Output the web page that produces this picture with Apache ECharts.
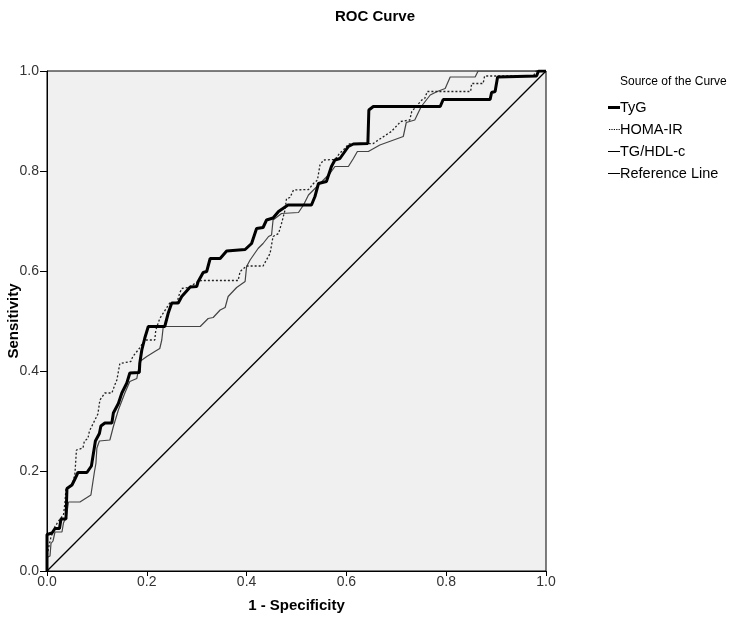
<!DOCTYPE html>
<html>
<head>
<meta charset="utf-8">
<script src="https://cdn.jsdelivr.net/npm/echarts@6/dist/echarts.min.js"></script>
<style>html,body{margin:0;padding:0;background:#fff}#c{width:750px;height:617px}</style>
</head>
<body>
<div id="c"></div>
<script>
const seriesNames = ['TyG', 'HOMA-IR', 'TG/HDL-c', 'Reference Line'];
const xTickValues = [0, 0.2, 0.4, 0.6, 0.8, 1.0];
const yTickValues = [0, 0.2, 0.4, 0.6, 0.8, 1.0];

// [1 - Specificity, Sensitivity]
const tygPoints = [[0,0],[0,0.073],[0.01,0.076],[0.016,0.085],[0.025,0.085],[0.028,0.104],[0.038,0.104],[0.04,0.165],[0.05,0.172],[0.056,0.184],[0.062,0.197],[0.08,0.197],[0.089,0.21],[0.097,0.26],[0.105,0.275],[0.108,0.29],[0.116,0.296],[0.13,0.296],[0.133,0.316],[0.143,0.335],[0.15,0.356],[0.16,0.376],[0.166,0.396],[0.185,0.397],[0.186,0.416],[0.19,0.442],[0.196,0.466],[0.203,0.489],[0.236,0.489],[0.243,0.516],[0.25,0.536],[0.263,0.536],[0.27,0.549],[0.287,0.568],[0.3,0.569],[0.303,0.579],[0.313,0.597],[0.32,0.599],[0.327,0.625],[0.347,0.625],[0.36,0.64],[0.397,0.643],[0.41,0.655],[0.42,0.685],[0.433,0.687],[0.44,0.702],[0.453,0.706],[0.464,0.719],[0.483,0.732],[0.53,0.732],[0.537,0.749],[0.544,0.775],[0.56,0.779],[0.57,0.809],[0.577,0.822],[0.587,0.825],[0.604,0.849],[0.614,0.854],[0.643,0.855],[0.645,0.922],[0.654,0.929],[0.788,0.929],[0.794,0.943],[0.888,0.943],[0.891,0.957],[0.898,0.959],[0.903,0.988],[0.981,0.99],[0.985,1],[1,1]];
const homaPoints = [[0,0],[0,0.03],[0.004,0.05],[0.008,0.068],[0.016,0.089],[0.026,0.104],[0.033,0.112],[0.036,0.137],[0.038,0.164],[0.048,0.17],[0.052,0.177],[0.056,0.195],[0.059,0.242],[0.072,0.246],[0.075,0.26],[0.082,0.265],[0.085,0.28],[0.095,0.3],[0.102,0.314],[0.106,0.342],[0.116,0.356],[0.13,0.356],[0.137,0.375],[0.14,0.382],[0.146,0.415],[0.168,0.419],[0.172,0.429],[0.185,0.445],[0.196,0.462],[0.216,0.462],[0.218,0.482],[0.226,0.505],[0.23,0.509],[0.246,0.536],[0.26,0.536],[0.266,0.556],[0.27,0.565],[0.283,0.567],[0.303,0.579],[0.31,0.581],[0.383,0.581],[0.387,0.599],[0.4,0.61],[0.433,0.61],[0.447,0.635],[0.453,0.669],[0.464,0.675],[0.47,0.695],[0.477,0.722],[0.48,0.745],[0.487,0.747],[0.494,0.762],[0.524,0.763],[0.534,0.775],[0.542,0.782],[0.547,0.812],[0.554,0.822],[0.577,0.823],[0.587,0.836],[0.597,0.845],[0.604,0.854],[0.654,0.855],[0.664,0.862],[0.69,0.879],[0.709,0.899],[0.727,0.902],[0.731,0.919],[0.751,0.942],[0.757,0.945],[0.762,0.959],[0.849,0.959],[0.851,0.975],[0.874,0.975],[0.877,0.99],[0.975,0.99],[0.98,1],[1,1]];
const tgHdlPoints = [[0,0],[0,0.027],[0.006,0.03],[0.008,0.055],[0.012,0.06],[0.016,0.078],[0.03,0.078],[0.033,0.096],[0.039,0.11],[0.043,0.138],[0.066,0.138],[0.088,0.152],[0.095,0.198],[0.098,0.215],[0.1,0.246],[0.105,0.26],[0.126,0.262],[0.133,0.289],[0.143,0.322],[0.156,0.356],[0.166,0.379],[0.18,0.385],[0.186,0.419],[0.2,0.429],[0.216,0.439],[0.226,0.445],[0.23,0.462],[0.233,0.489],[0.307,0.489],[0.323,0.505],[0.333,0.507],[0.347,0.522],[0.357,0.527],[0.363,0.549],[0.38,0.567],[0.397,0.579],[0.4,0.609],[0.407,0.622],[0.423,0.645],[0.433,0.655],[0.444,0.669],[0.45,0.672],[0.453,0.702],[0.47,0.715],[0.504,0.717],[0.514,0.732],[0.524,0.752],[0.537,0.765],[0.554,0.782],[0.567,0.795],[0.577,0.809],[0.604,0.809],[0.614,0.825],[0.622,0.839],[0.644,0.839],[0.667,0.852],[0.714,0.869],[0.72,0.897],[0.737,0.902],[0.75,0.929],[0.768,0.952],[0.782,0.959],[0.798,0.965],[0.808,0.988],[0.858,0.988],[0.864,1],[1,1]];
const referencePoints = [[0,0],[1,1]];

const FONT = '"Liberation Sans", Arial, sans-serif';
const chart = echarts.init(document.getElementById('c'), null, {renderer: 'canvas'});

const baseLine = {type: 'line', symbol: 'none', showSymbol: false, animation: false, silent: true};

// legend glyphs (12 x 14 box, hairline rects keep the box size)
const box = 'M0,0h12v0.01h-12z M0,13.99h12v0.01h-12z ';
const iconThick = 'path://' + box + 'M0,5.6h12v2.8h-12z';
const iconThin = 'path://' + box + 'M0,6.4h12v1.2h-12z';
const iconDot = 'path://' + box + 'M1,6.4h1.2v1.2h-1.2z M3.4,6.4h1.2v1.2h-1.2z M5.8,6.4h1.2v1.2h-1.2z M8.2,6.4h1.2v1.2h-1.2z M10.6,6.4h1.2v1.2h-1.2z';

chart.setOption({
  backgroundColor: '#ffffff',
  textStyle: {fontFamily: FONT},
  title: [
    {text: 'ROC Curve', left: 'center', top: 4,
     textStyle: {fontFamily: FONT, fontSize: 15, fontWeight: 'bold', color: '#000'}},
    {text: 'Source of the Curve', left: 615, top: 71,
     textStyle: {fontFamily: FONT, fontSize: 12, fontWeight: 'normal', color: '#000'}}
  ],
  legend: {
    orient: 'vertical', left: 603, top: 95,
    itemWidth: 12, itemHeight: 14, itemGap: 7,
    data: [
      {name: seriesNames[0], icon: iconThick, itemStyle: {color: '#000'}},
      {name: seriesNames[1], icon: iconDot, itemStyle: {color: '#000'}},
      {name: seriesNames[2], icon: iconThin, itemStyle: {color: '#000'}},
      {name: seriesNames[3], icon: iconThin, itemStyle: {color: '#000'}}
    ],
    textStyle: {fontFamily: FONT, fontSize: 14.5, color: '#000', padding: [0, 0, 0, -5]},
    selectedMode: false
  },
  grid: {left: 47, right: 204, top: 71, bottom: 46, show: true, outerBoundsMode: 'none', containLabel: false,
         backgroundColor: '#f0f0f0', borderColor: '#000', borderWidth: 1},
  xAxis: {
    type: 'value', min: 0, max: 1, interval: 0.2,
    name: '1 - Specificity', nameLocation: 'middle', nameGap: 27, nameMoveOverlap: false,
    nameTextStyle: {fontFamily: FONT, fontSize: 15, fontWeight: 'bold', color: '#000'},
    axisLine: {show: true, lineStyle: {color: '#000', width: 1}},
    axisTick: {show: true, length: 5, lineStyle: {color: '#000'}},
    axisLabel: {fontFamily: FONT, fontSize: 14, color: '#333', margin: 4,
                formatter: v => v.toFixed(1)},
    splitLine: {show: false}
  },
  yAxis: {
    type: 'value', min: 0, max: 1, interval: 0.2,
    name: 'Sensitivity', nameLocation: 'middle', nameGap: 26, nameMoveOverlap: false,
    nameTextStyle: {fontFamily: FONT, fontSize: 15, fontWeight: 'bold', color: '#000'},
    axisLine: {show: true, lineStyle: {color: '#000', width: 1}},
    axisTick: {show: true, length: 7, lineStyle: {color: '#000'}},
    axisLabel: {fontFamily: FONT, fontSize: 14, color: '#333', margin: 8,
                formatter: v => v.toFixed(1)},
    splitLine: {show: false}
  },
  series: [
    Object.assign({}, baseLine, {name: seriesNames[3], data: referencePoints, z: 2,
      itemStyle: {color: '#000'}, lineStyle: {color: '#000', width: 1.3, type: 'solid'}}),
    Object.assign({}, baseLine, {name: seriesNames[2], data: tgHdlPoints, z: 3,
      itemStyle: {color: '#000'}, lineStyle: {color: '#444', width: 1.2, type: 'solid'}}),
    Object.assign({}, baseLine, {name: seriesNames[1], data: homaPoints, z: 4,
      itemStyle: {color: '#000'}, lineStyle: {color: '#222', width: 1.3, type: [2, 2]}}),
    Object.assign({}, baseLine, {name: seriesNames[0], data: tygPoints, z: 5,
      itemStyle: {color: '#000'}, lineStyle: {color: '#000', width: 3, type: 'solid'}})
  ]
});
</script>
</body>
</html>
